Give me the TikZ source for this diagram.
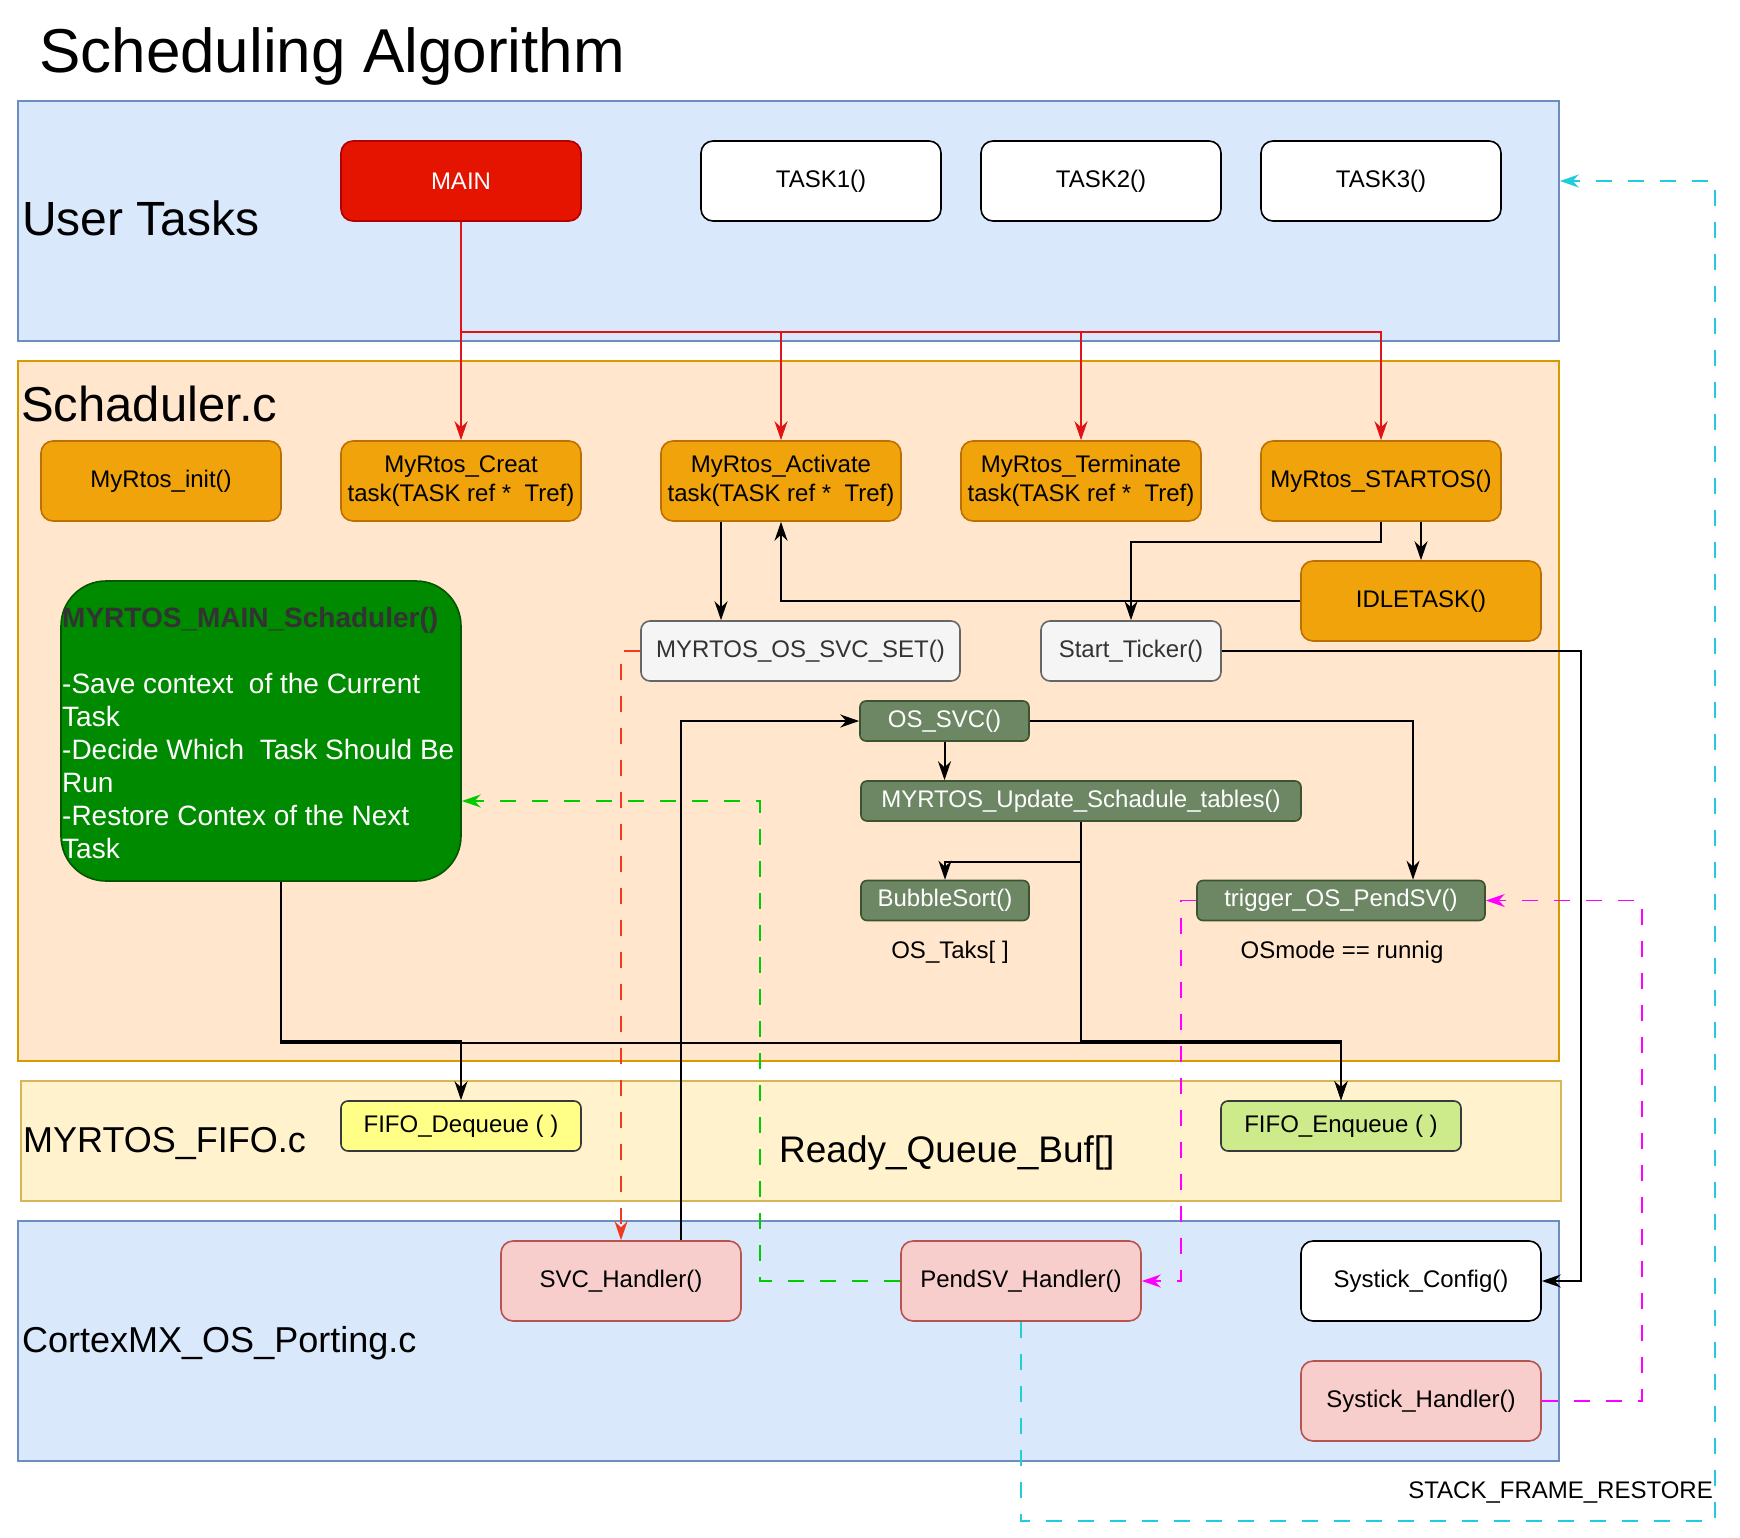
\documentclass[tikz,border=0pt]{standalone}
\usepackage{fontspec}
\setmainfont{Liberation Sans}
\usetikzlibrary{arrows.meta}
\definecolor{utfill}{HTML}{DAE8FC}
\definecolor{utdraw}{HTML}{6C8EBF}
\definecolor{scfill}{HTML}{FFE6CC}
\definecolor{scdraw}{HTML}{D79B00}
\definecolor{fifill}{HTML}{FFF2CC}
\definecolor{fidraw}{HTML}{D6B656}
\definecolor{mainfill}{HTML}{E51400}
\definecolor{maindraw}{HTML}{B20000}
\definecolor{orfill}{HTML}{F0A30A}
\definecolor{ordraw}{HTML}{BD7000}
\definecolor{gbfill}{HTML}{008A00}
\definecolor{gbdraw}{HTML}{005700}
\definecolor{grfill}{HTML}{F5F5F5}
\definecolor{grdraw}{HTML}{666666}
\definecolor{grtext}{HTML}{333333}
\definecolor{ogfill}{HTML}{6D8764}
\definecolor{ogdraw}{HTML}{3A5431}
\definecolor{yefill}{HTML}{FFFF88}
\definecolor{lgfill}{HTML}{CDEB8B}
\definecolor{dkdraw}{HTML}{36393D}
\definecolor{pkfill}{HTML}{F8CECC}
\definecolor{pkdraw}{HTML}{B85450}
\definecolor{redline}{HTML}{E01414}
\definecolor{reddsh}{HTML}{F03C1E}
\definecolor{greendsh}{HTML}{00CC00}
\definecolor{magdsh}{HTML}{FF00FF}
\definecolor{cyandsh}{HTML}{22CCDD}
\begin{document}
\begin{tikzpicture}[x=1pt,y=-1pt,
  region/.style={rectangle, line width=1.6pt, inner sep=0pt},
  box/.style={rectangle, draw, line width=1.6pt, rounded corners=12pt, minimum width=240pt, minimum height=80pt, inner sep=2pt, align=center, font=\fontsize{24}{29}\selectfont},
  obox/.style={box, fill=orfill, draw=ordraw},
  wbox/.style={box, fill=white, draw=black},
  pbox/.style={box, fill=pkfill, draw=pkdraw},
  gybox/.style={box, fill=grfill, draw=grdraw, text=grtext, minimum height=60pt, rounded corners=9pt},
  olbox/.style={box, fill=ogfill, draw=ogdraw, text=white, minimum height=40pt, rounded corners=6pt},
  fbox/.style={box, draw=dkdraw, minimum height=50pt, rounded corners=7pt},
  lbl/.style={inner sep=0pt, anchor=base west},
  arr/.style={draw=black, line width=2pt, -{Stealth[length=19pt,width=13pt]}},
  redarr/.style={draw=redline, line width=1.8pt, -{Stealth[length=19pt,width=13pt]}},
  dsh/.style={line width=1.8pt, dash pattern=on 16pt off 16pt, -{Stealth[length=19pt,width=13pt]}}
]
\useasboundingbox[fill=white] (0,0) rectangle (1740,1538);

% regions
\node[region, fill=utfill, draw=utdraw, minimum width=1541pt, minimum height=240pt] (ut) at (788.5,221) {};
\node[region, fill=scfill, draw=scdraw, minimum width=1541pt, minimum height=700pt] (sc) at (788.5,711) {};
\node[region, fill=fifill, draw=fidraw, minimum width=1540pt, minimum height=120pt] (fi) at (791,1141) {};
\node[region, fill=utfill, draw=utdraw, minimum width=1541pt, minimum height=240pt] (cx) at (788.5,1341) {};

% titles
\node[lbl, font=\fontsize{62}{70}\selectfont] (title) at (39,73) {Scheduling Algorithm};
\node[lbl, font=\fontsize{48}{56}\selectfont] (utl) at (22,236) {User Tasks};
\node[lbl, font=\fontsize{49}{56}\selectfont] (scl) at (21,421) {Schaduler.c};
\node[lbl, font=\fontsize{36}{42}\selectfont] (fil) at (23,1152) {MYRTOS\_FIFO.c};
\node[lbl, font=\fontsize{37}{42}\selectfont] (rq) at (779,1162) {Ready\_Queue\_Buf[]};
\node[lbl, font=\fontsize{36}{42}\selectfont] (cxl) at (22,1352) {CortexMX\_OS\_Porting.c};
\node[inner sep=0pt, anchor=base east, font=\fontsize{24}{28}\selectfont] (sfr) at (1713,1498) {STACK\_FRAME\_RESTORE};

% user tasks
\node[box, fill=mainfill, draw=maindraw, text=white] (main) at (461,181) {MAIN};
\node[wbox] (t1) at (821,181) {TASK1()};
\node[wbox] (t2) at (1101,181) {TASK2()};
\node[wbox] (t3) at (1381,181) {TASK3()};

% scheduler
\node[obox] (init) at (161,481) {MyRtos\_init()};
\node[obox] (creat) at (461,481) {MyRtos\_Creat\\task(TASK ref *~ Tref)};
\node[obox] (act) at (781,481) {MyRtos\_Activate\\task(TASK ref *~ Tref)};
\node[obox] (term) at (1081,481) {MyRtos\_Terminate\\task(TASK ref *~ Tref)};
\node[obox] (start) at (1381,481) {MyRtos\_STARTOS()};
\node[obox] (idle) at (1421,601) {IDLETASK()};

\node[box, fill=gbfill, draw=gbdraw, minimum width=400pt, minimum height=300pt, rounded corners=45pt] (sched) at (261,731) {};
\node[inner sep=0pt, anchor=west, align=left, text=white, font=\fontsize{28}{33}\selectfont] (schedtxt) at (62,733)
  {\textcolor{grtext}{\textbf{MYRTOS\_MAIN\_Schaduler()}}\\[33pt]
   -Save context~ of the Current\\Task\\-Decide Which~ Task Should Be\\Run\\-Restore Contex of the Next\\Task};

\node[gybox, minimum width=319pt] (svcset) at (800.5,651) {MYRTOS\_OS\_SVC\_SET()};
\node[gybox, minimum width=180pt] (ticker) at (1131,651) {Start\_Ticker()};
\node[olbox, minimum width=169pt] (ossvc) at (944.5,721) {OS\_SVC()};
\node[olbox, minimum width=440pt] (upd) at (1081,801) {MYRTOS\_Update\_Schadule\_tables()};
\node[olbox, minimum width=168pt] (bub) at (945,900.5) {BubbleSort()};
\node[olbox, minimum width=288pt] (trig) at (1341,900.5) {trigger\_OS\_PendSV()};
\node[inner sep=0pt, font=\fontsize{24}{28}\selectfont] (ostaks) at (950,952) {OS\_Taks[ ]};
\node[inner sep=0pt, font=\fontsize{24}{28}\selectfont] (osmode) at (1342,952) {OSmode == runnig};

% fifo
\node[fbox, fill=yefill] (deq) at (461,1126) {FIFO\_Dequeue ( )};
\node[fbox, fill=lgfill] (enq) at (1341,1126) {FIFO\_Enqueue ( )};

% cortex
\node[pbox] (svch) at (621,1281) {SVC\_Handler()};
\node[pbox] (pendsv) at (1021,1281) {PendSV\_Handler()};
\node[wbox] (sconf) at (1421,1281) {Systick\_Config()};
\node[pbox] (shand) at (1421,1401) {Systick\_Handler()};

% coordinates
\coordinate (busA) at (0,1041);
\coordinate (busB) at (0,1043);
\coordinate (cyc) at (1715,1521);

% red edges from MAIN
\draw[redarr] (main.south) -- (creat.north);
\draw[redarr] (main.south) -- ++(0,110) -| (act.north);
\draw[redarr] (main.south) -- ++(0,110) -| (term.north);
\draw[redarr] (main.south) -- ++(0,110) -| (start.north);

% black edges
\draw[arr] ([xshift=-60pt]act.south) -- ([xshift=-60pt]act.south |- svcset.north);
\draw[arr] (idle.west) -| (act.south);
\draw[arr] (start.south) -- ++(0,20) -| (ticker.north);
\draw[arr] (start.south -| idle.north) -- (idle.north);
\draw[arr] (ticker.east) -- ++(359,0) |- (sconf.east);
\draw[arr] ([xshift=60pt]svch.north) |- (ossvc.west);
\draw[arr] (ossvc.east) -| ([xshift=72pt]trig.north);
\draw[arr] (ossvc.south) -- (ossvc.south |- upd.north);
\draw[arr] (upd.south) -- ++(0,40) -| (bub.north);
\draw[arr] (upd.south) -- (upd.south |- busA) -| (enq.north);
\draw[arr] ([xshift=20pt]sched.south) -- ([xshift=20pt]sched.south |- busA) -| (deq.north);
\draw[arr] ([xshift=20pt]sched.south) -- ([xshift=20pt]sched.south |- busB) -| (enq.north);

% dashed edges
\draw[dsh, draw=reddsh] (svcset.west) -| (svch.north);
\draw[dsh, draw=greendsh] (pendsv.west) -- ++(-140,0) |- ([yshift=-70pt]sched.east);
\draw[dsh, draw=magdsh] (trig.west) -- ++(-15,0) |- (pendsv.east);
\draw[dsh, draw=magdsh] (shand.east) -- ++(100,0) |- (trig.east);
\draw[dsh, draw=cyandsh] (pendsv.south) |- (cyc) |- ([yshift=40pt]ut.east);
\end{tikzpicture}
\end{document}
